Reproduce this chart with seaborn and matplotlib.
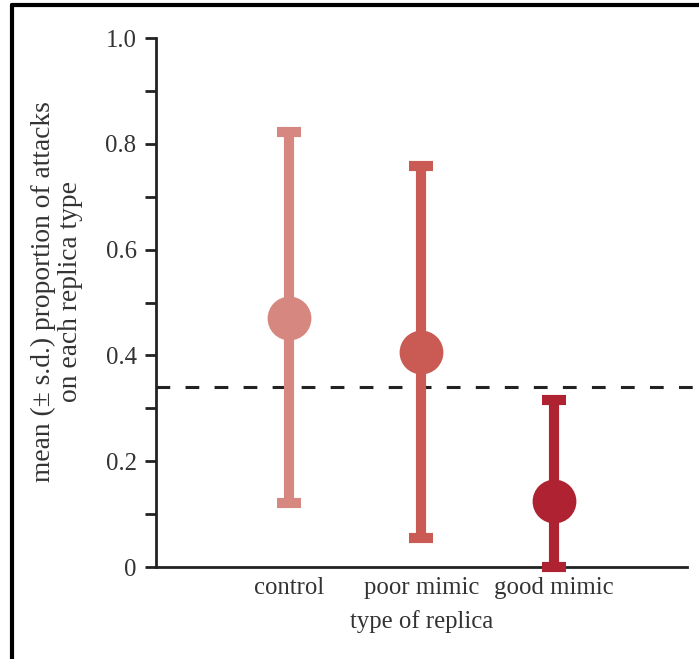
import matplotlib
matplotlib.use("Agg")
import matplotlib.pyplot as plt
from matplotlib.lines import Line2D
from matplotlib.ticker import MultipleLocator
import pandas as pd
import seaborn as sns

# values
replica = ["control", "poor mimic", "good mimic"]
mean_attack = [0.471, 0.406, 0.125]
sd_upper = [0.822, 0.758, 0.316]
sd_lower = [0.121, 0.055, 0.0]
chance_level = 0.34
colours = ["#D6877F", "#C95A54", "#AE2232"]

df = pd.DataFrame({"replica": replica, "mean": mean_attack,
                   "upper": sd_upper, "lower": sd_lower})

sns.set_style("ticks")
plt.rcParams["font.family"] = ["Liberation Serif", "DejaVu Serif"]
txt = "#333333"

fig = plt.figure(figsize=(6.99, 6.59), dpi=100)
ax = fig.add_axes([0.2232, 0.1396, 0.7596, 0.8027])

# error bars (mean +/- s.d., clipped at 0)
for i, row in df.iterrows():
    ax.errorbar(i, row["mean"],
                yerr=[[row["mean"] - row["lower"]], [row["upper"] - row["mean"]]],
                fmt="none", ecolor=colours[i], elinewidth=7.3, capsize=8.5,
                capthick=7.3, clip_on=False, zorder=3)

sns.pointplot(data=df, x="replica", y="mean", hue="replica", palette=colours,
              linestyle="none", markers="o", markersize=29.5, errorbar=None,
              legend=False, ax=ax, zorder=4)
for coll in ax.collections:
    coll.set_clip_on(False)
for ln in ax.lines:
    ln.set_clip_on(False)

ax.axhline(chance_level, xmin=0, xmax=1.015, color="#222222", lw=2.2,
           dashes=(4.5, 5), clip_on=False, zorder=2)

ax.set_xlim(-1, 3)
ax.set_ylim(0, 1.0)
ax.yaxis.set_minor_locator(MultipleLocator(0.1))
ax.set_yticks([0, 0.2, 0.4, 0.6, 0.8, 1.0])
ax.set_yticklabels(["0", "0.2", "0.4", "0.6", "0.8", "1.0"])

sns.despine(ax=ax)
for s in ["left", "bottom"]:
    ax.spines[s].set_linewidth(2.0)
    ax.spines[s].set_color("#222222")

ax.tick_params(axis="y", which="both", length=8, width=2.0, color="#222222",
               pad=6, labelsize=17.8, labelcolor=txt, direction="out")
ax.tick_params(axis="x", length=0, pad=7, labelsize=17.8, labelcolor=txt)

ax.set_xlabel("type of replica", fontsize=17.8, color=txt, labelpad=8)
ax.set_ylabel("mean (± s.d.) proportion of attacks\non each replica type",
              fontsize=19.8, color=txt, linespacing=1.12)
ax.yaxis.set_label_coords(-0.137, 0.52)

# frame lines of the cropped figure (top and left edges)
fig.add_artist(Line2D([0.0165, 1.0], [0.9925, 0.9925], color="black", lw=3,
                      transform=fig.transFigure))
fig.add_artist(Line2D([0.0175, 0.0175], [0.0, 0.9925], color="black", lw=3,
                      transform=fig.transFigure))

fig.savefig("out.png", dpi=100, facecolor="white")
